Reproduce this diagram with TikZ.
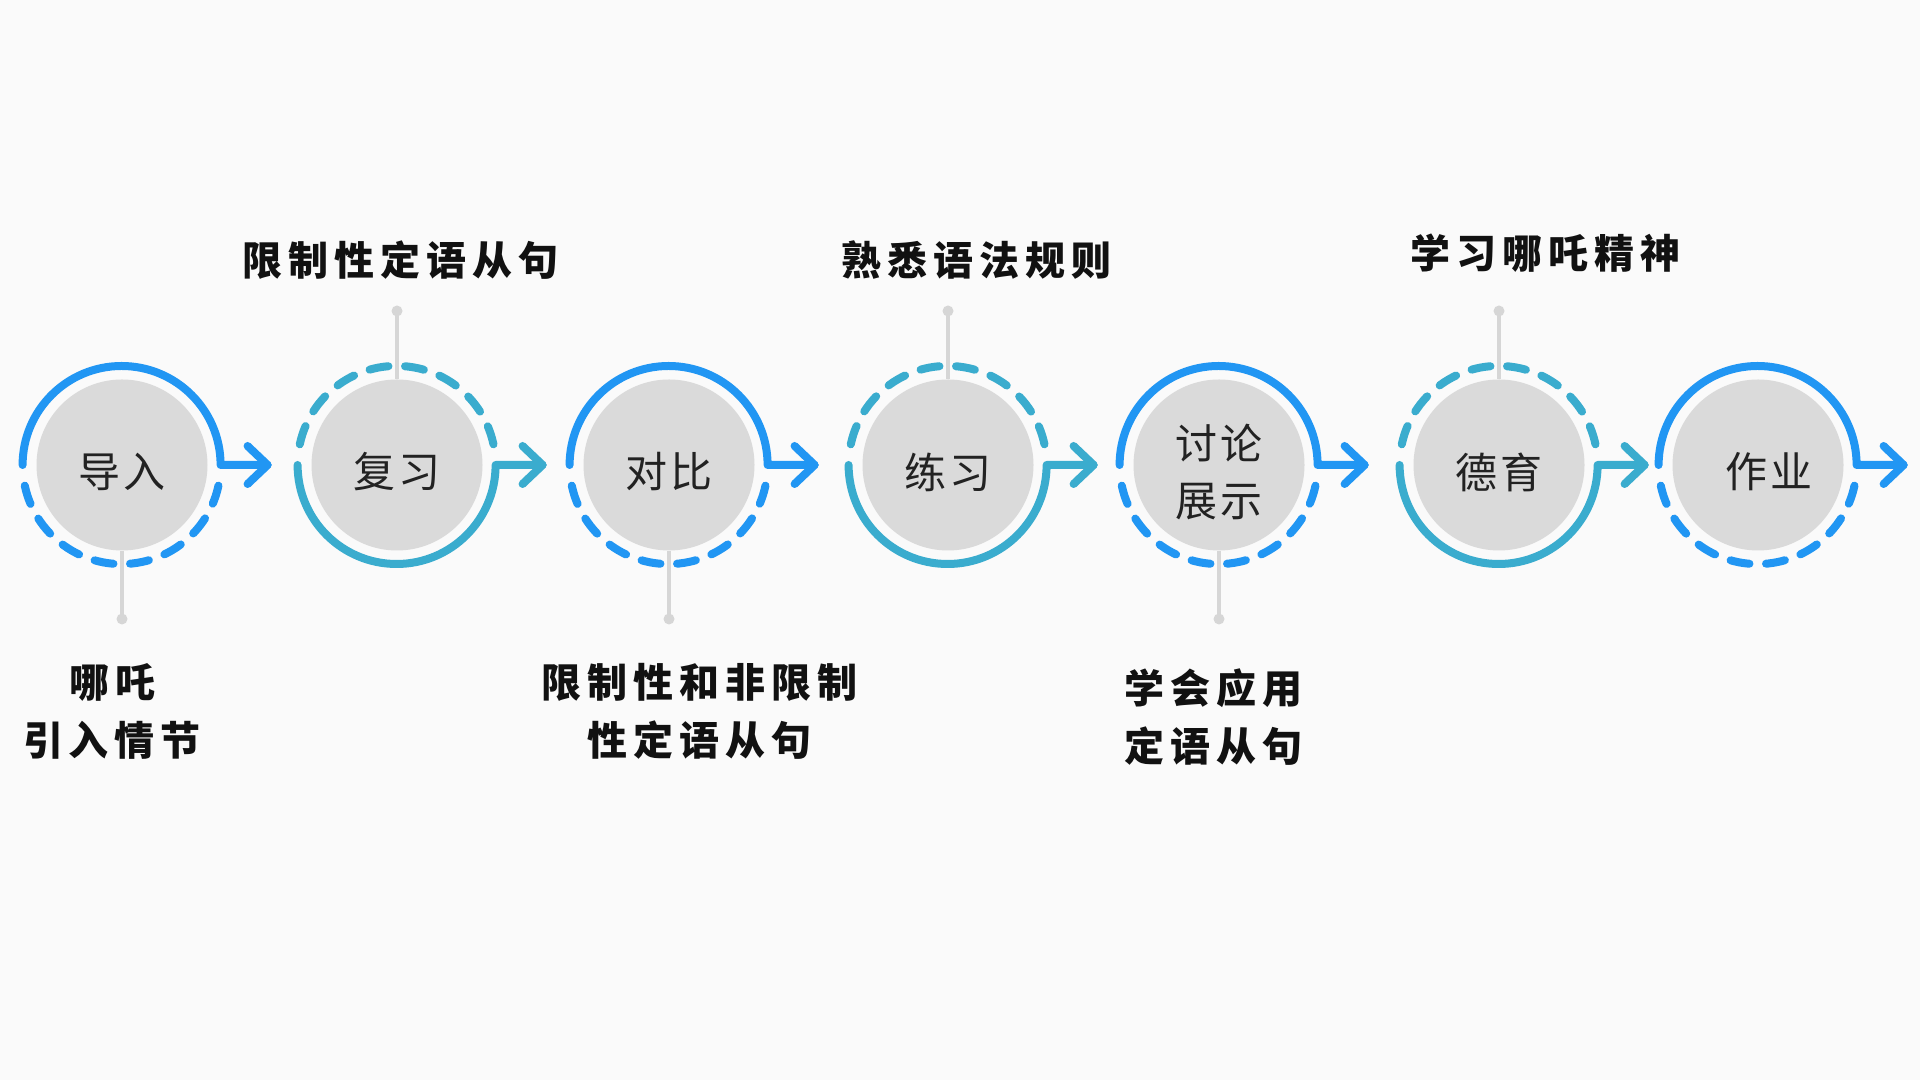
\documentclass[tikz,border=0pt]{standalone}
\usepackage{fontspec}
\newfontfamily\cjkin{Noto Sans CJK SC}[LetterSpace=6]
\newfontfamily\cjklbl{Noto Sans CJK SC}[LetterSpace=15,BoldFont={Noto Sans CJK SC Black}]
\definecolor{bgc}{RGB}{250,250,250}
\definecolor{cblue}{RGB}{33,150,243}
\definecolor{cteal}{RGB}{58,172,206}
\definecolor{diskgray}{RGB}{218,218,218}
\definecolor{conngray}{RGB}{214,214,214}
\definecolor{txtc}{RGB}{34,34,34}
\definecolor{lblc}{RGB}{17,17,17}
\begin{document}
\begin{tikzpicture}[x=0.5pt,y=0.5pt,
  disk/.style={circle,fill=diskgray,minimum size=85.5pt,inner sep=0pt},
  intext/.style={text=txtc,font=\cjkin\fontsize{21}{28.5}\selectfont,align=center,inner sep=0pt},
  ringnode/.style={circle,minimum size=99pt,inner sep=0pt},
  solidring/.style={line width=4pt,line cap=round,line join=round},
  dashring/.style={line width=4pt,line cap=round,dash pattern=on 9.6pt off 8.3pt},
  connline/.style={draw=conngray,line width=2pt},
  dotnode/.style={circle,fill=conngray,minimum size=5.5pt,inner sep=0pt},
  lbl/.style={text=lblc,font=\cjklbl\bfseries\fontsize{20}{29}\selectfont,align=center},
]
\fill[bgc] (0,0) rectangle (1920,1080);
\useasboundingbox (0,0) rectangle (1920,1080);

% disks
\foreach \i/\x in {1/122,2/397,3/669,4/948,5/1219,6/1499,7/1758}{
  \node[disk] (d\i) at (\x,615) {};
  \node[ringnode] (r\i) at (\x,615) {};
}
% texts inside the disks
\node[intext] (n1) at (122,608) {导入};
\node[intext] (n2) at (397,608) {复习};
\node[intext] (n3) at (669,608) {对比};
\node[intext] (n4) at (948,608) {练习};
\node[intext] (n5) at (1219,608) {讨论\\展示};
\node[intext] (n6) at (1499,608) {德育};
\node[intext] (n7) at (1769,608) {作业};

% connectors with dots
\node[dotnode] (p1) at (122,461) {};
\node[dotnode] (p2) at (397,769) {};
\node[dotnode] (p3) at (669,461) {};
\node[dotnode] (p4) at (948,769) {};
\node[dotnode] (p5) at (1219,461) {};
\node[dotnode] (p6) at (1499,769) {};
\draw[connline] (d1.south) -- (p1.center);
\draw[connline] (d2.north) -- (p2.center);
\draw[connline] (d3.south) -- (p3.center);
\draw[connline] (d4.north) -- (p4.center);
\draw[connline] (d5.south) -- (p5.center);
\draw[connline] (d6.north) -- (p6.center);

% odd rings: blue, solid top, dashed bottom
\foreach \i in {1,3,5,7}{
  \draw[solidring,cblue] (r\i.west) arc[start angle=180,end angle=0,radius=49.5pt] -- ++(47,0) coordinate (t\i);
  \draw[solidring,cblue] (t\i) ++(-20,19) -- (t\i) -- ++(-20,-19);
  \draw[dashring,cblue] (r\i.192) arc[start angle=192,end angle=348,radius=49.5pt];
}
% even rings: teal, solid bottom, dashed top
\foreach \i in {2,4,6}{
  \draw[solidring,cteal] (r\i.west) arc[start angle=180,end angle=360,radius=49.5pt] -- ++(47,0) coordinate (t\i);
  \draw[solidring,cteal] (t\i) ++(-20,19) -- (t\i) -- ++(-20,-19);
  \draw[dashring,cteal] (r\i.168) arc[start angle=168,end angle=12,radius=49.5pt];
}

% labels
\node[lbl] (l2) at (400,820) {限制性定语从句};
\node[lbl] (l4) at (976,820) {熟悉语法规则};
\node[lbl] (l6) at (1545,827) {学习哪吒精神};
\node[lbl] (l1) at (112,369) {哪吒\\引入情节};
\node[lbl] (l3) at (699,369) {限制性和非限制\\性定语从句};
\node[lbl] (l5) at (1213,363) {学会应用\\定语从句};
\end{tikzpicture}
\end{document}
